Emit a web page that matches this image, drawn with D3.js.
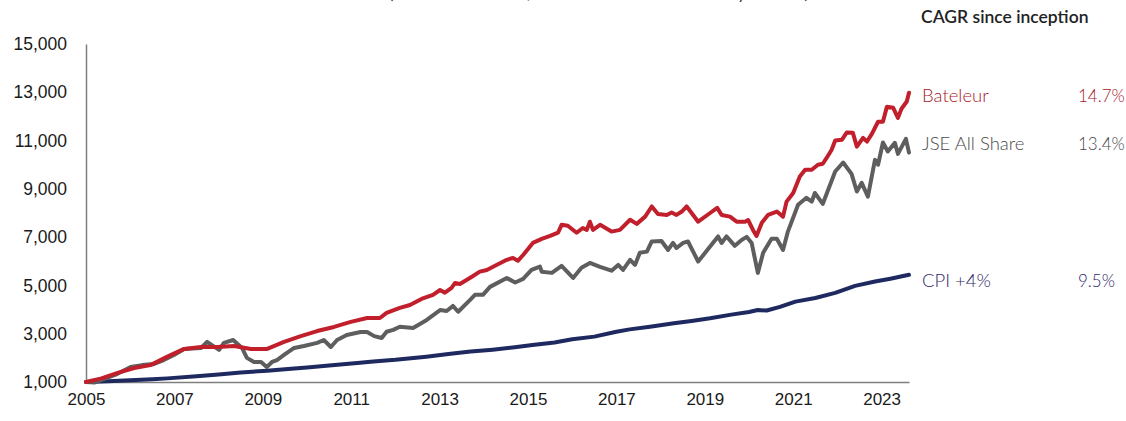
<!DOCTYPE html>
<html>
<head>
<meta charset="utf-8">
<script src="https://cdn.jsdelivr.net/npm/d3@7"></script>
<style>
  body { margin: 0; background: #fff; }
  svg { display: block; font-family: Lato, "Open Sans", sans-serif; }
</style>
</head>
<body>
<div id="chart"></div>
<script>
// values, [year, value]
var bateleur = [
  [2005.00, 1000], [2005.35, 1150], [2005.70, 1370], [2006.09, 1580], [2006.46, 1700],
  [2006.83, 2040], [2007.22, 2370], [2007.60, 2450], [2007.96, 2450], [2008.35, 2490],
  [2008.73, 2370], [2009.10, 2370], [2009.48, 2660], [2009.86, 2900], [2010.23, 3110],
  [2010.61, 3280], [2010.99, 3490], [2011.36, 3650], [2011.65, 3650], [2011.80, 3860],
  [2012.10, 4070], [2012.33, 4190], [2012.59, 4440], [2012.85, 4610], [2013.01, 4810],
  [2013.12, 4700], [2013.27, 4900], [2013.35, 5100], [2013.46, 5060], [2013.73, 5360],
  [2013.91, 5570], [2014.07, 5640], [2014.21, 5770], [2014.52, 6060], [2014.66, 6140],
  [2014.77, 6020], [2014.89, 6260], [2015.11, 6760], [2015.31, 6930], [2015.50, 7050],
  [2015.68, 7190], [2015.76, 7510], [2015.90, 7470], [2016.10, 7180], [2016.24, 7380],
  [2016.33, 7300], [2016.40, 7640], [2016.47, 7300], [2016.63, 7510], [2016.89, 7230],
  [2017.08, 7300], [2017.31, 7720], [2017.46, 7550], [2017.65, 7850], [2017.80, 8270],
  [2017.94, 7960], [2018.14, 7920], [2018.25, 8020], [2018.36, 7920], [2018.48, 8060],
  [2018.59, 8270], [2018.85, 7640], [2019.12, 8000], [2019.28, 8210], [2019.38, 7920],
  [2019.57, 7850], [2019.72, 7640], [2019.91, 7640], [2019.98, 7710], [2020.09, 7300],
  [2020.17, 7050], [2020.29, 7600], [2020.43, 7920], [2020.63, 8060], [2020.77, 7850],
  [2020.85, 8470], [2021.00, 8830], [2021.15, 9510], [2021.27, 9790], [2021.42, 9790],
  [2021.56, 10000], [2021.67, 10040], [2021.76, 10290], [2021.87, 10620], [2021.95, 11000],
  [2022.10, 11030], [2022.21, 11330], [2022.35, 11320], [2022.44, 10750], [2022.58, 11110],
  [2022.67, 10960], [2022.78, 11280], [2022.92, 11780], [2023.03, 11780], [2023.12, 12400],
  [2023.26, 12360], [2023.37, 11940], [2023.45, 12320], [2023.57, 12620], [2023.62, 12980]
];

var jse = [
  [2005.00, 1000], [2005.20, 980], [2005.70, 1330], [2006.01, 1620], [2006.27, 1700],
  [2006.54, 1750], [2006.76, 1910], [2006.99, 2120], [2007.22, 2370], [2007.60, 2410],
  [2007.74, 2660], [2008.01, 2330], [2008.12, 2620], [2008.33, 2740], [2008.53, 2410],
  [2008.64, 2000], [2008.80, 1830], [2008.96, 1830], [2009.09, 1620], [2009.21, 1830],
  [2009.32, 1910], [2009.48, 2120], [2009.71, 2410], [2009.93, 2490], [2010.23, 2620],
  [2010.38, 2740], [2010.54, 2450], [2010.68, 2740], [2010.90, 2950], [2011.21, 3070],
  [2011.36, 3070], [2011.52, 2900], [2011.69, 2820], [2011.80, 3080], [2011.95, 3160],
  [2012.10, 3290], [2012.40, 3240], [2012.71, 3570], [2013.01, 3980], [2013.16, 3940],
  [2013.30, 4150], [2013.42, 3910], [2013.69, 4400], [2013.80, 4610], [2013.98, 4610],
  [2014.14, 4940], [2014.52, 5310], [2014.71, 5120], [2014.89, 5270], [2015.08, 5640],
  [2015.27, 5780], [2015.31, 5570], [2015.54, 5520], [2015.76, 5810], [2016.02, 5310],
  [2016.21, 5730], [2016.40, 5930], [2016.63, 5770], [2016.89, 5610], [2017.04, 5850],
  [2017.15, 5640], [2017.31, 6060], [2017.42, 5850], [2017.53, 6350], [2017.69, 6400],
  [2017.80, 6820], [2018.02, 6840], [2018.17, 6470], [2018.28, 6760], [2018.36, 6550],
  [2018.51, 6760], [2018.62, 6820], [2018.85, 5990], [2019.12, 6610], [2019.30, 7030],
  [2019.38, 6760], [2019.49, 7030], [2019.68, 6640], [2019.84, 6890], [2019.95, 7010],
  [2020.06, 6760], [2020.20, 5520], [2020.32, 6350], [2020.51, 6930], [2020.63, 6930],
  [2020.77, 6470], [2020.88, 7230], [2021.11, 8340], [2021.30, 8630], [2021.42, 8470],
  [2021.49, 8830], [2021.67, 8380], [2021.95, 9720], [2022.13, 10090], [2022.32, 9620],
  [2022.44, 8890], [2022.55, 9250], [2022.69, 8680], [2022.85, 10200], [2022.92, 10000],
  [2023.03, 10920], [2023.14, 10550], [2023.30, 10910], [2023.37, 10450], [2023.55, 11070],
  [2023.62, 10500]
];

var cpi = [
  [2005.00, 1000], [2005.50, 1030], [2006.00, 1070], [2006.50, 1110], [2006.84, 1150],
  [2007.50, 1240], [2008.00, 1310], [2008.50, 1390], [2009.10, 1470], [2009.50, 1530],
  [2010.00, 1600], [2010.50, 1680], [2011.20, 1800], [2011.50, 1850], [2012.00, 1920],
  [2012.70, 2050], [2013.20, 2160], [2013.70, 2260], [2014.20, 2340], [2014.70, 2440],
  [2015.10, 2530], [2015.60, 2640], [2016.00, 2770], [2016.50, 2880], [2017.00, 3080],
  [2017.30, 3180], [2017.76, 3290], [2018.30, 3430], [2018.70, 3530], [2019.12, 3640],
  [2019.60, 3790], [2020.00, 3900], [2020.20, 3980], [2020.40, 3960], [2020.70, 4110],
  [2021.05, 4330], [2021.50, 4480], [2021.95, 4690], [2022.40, 4980], [2022.85, 5160],
  [2023.20, 5280], [2023.62, 5440]
];

var seriesNames = ["Bateleur", "JSE All Share", "CPI +4%"];
var cagrLabels = ["14.7%", "13.4%", "9.5%"];
var yTicks = [1000, 3000, 5000, 7000, 9000, 11000, 13000, 15000];
var xTicks = [2005, 2007, 2009, 2011, 2013, 2015, 2017, 2019, 2021, 2023];

var width = 1126, height = 421;
var margin = {top: 44, right: 217, bottom: 39, left: 86};

var lineColors = ["#c01f2b", "#5e5e5e", "#1e2960"];
var labelColors = ["#a8202b", "#4a4a4a", "#2f2868"];

var svg = d3.select("#chart").append("svg")
    .attr("width", width)
    .attr("height", height);

var x = d3.scaleLinear()
    .domain([2005, 2023.62])
    .range([margin.left, width - margin.right]);

var y = d3.scaleLinear()
    .domain([1000, 15000])
    .range([height - margin.bottom, margin.top]);

// title, sits almost entirely above the top edge like the original
svg.append("text")
    .attr("x", 389)
    .attr("y", -1)
    .style("font-size", "16px")
    .style("fill", "#333")
    .text("(Rebased to R1 000, total return after fees monthly in rands)");

// y axis
var yAxis = d3.axisLeft(y)
    .tickValues(yTicks)
    .tickSize(0)
    .tickPadding(19)
    .tickFormat(d3.format(","));

var gy = svg.append("g")
    .attr("transform", "translate(" + margin.left + ",0)")
    .call(yAxis);
gy.select(".domain").attr("stroke", "#7f7f7f").attr("stroke-width", 1.5);
gy.selectAll("text").style("font-size", "17.5px").style("fill", "#1a1a1a");

// x axis
var xAxis = d3.axisBottom(x)
    .tickValues(xTicks)
    .tickSize(0)
    .tickPadding(11)
    .tickFormat(d3.format("d"));

var gx = svg.append("g")
    .attr("transform", "translate(0," + (height - margin.bottom) + ")")
    .call(xAxis);
gx.select(".domain").attr("stroke", "#7f7f7f").attr("stroke-width", 1.5);
gx.selectAll("text").style("font-size", "17px").style("fill", "#1a1a1a");

var line = d3.line()
    .x(function (d) { return x(d[0]); })
    .y(function (d) { return y(d[1]); });

// cpi first, then jse, bateleur on top
var allSeries = [bateleur, jse, cpi];
[2, 1, 0].forEach(function (i) {
    svg.append("path")
        .datum(allSeries[i])
        .attr("fill", "none")
        .attr("stroke", lineColors[i])
        .attr("stroke-width", 4)
        .attr("stroke-linejoin", "round")
        .attr("stroke-linecap", "round")
        .attr("d", line);
});

// legend on the right
var labelX = 922, pctX = 1078;
var labelY = [96, 144, 281];

svg.append("text")
    .attr("x", 921)
    .attr("y", 23)
    .style("font-size", "17.5px")
    .style("font-weight", 600)
    .style("fill", "#222")
    .text("CAGR since inception");

seriesNames.forEach(function (name, i) {
    svg.append("text")
        .attr("x", labelX)
        .attr("y", labelY[i])
        .attr("dy", "0.35em")
        .style("font-size", "18.5px")
        .style("font-weight", 300)
        .style("fill", labelColors[i])
        .text(name);

    svg.append("text")
        .attr("x", pctX)
        .attr("y", labelY[i])
        .attr("dy", "0.35em")
        .style("font-size", "17px")
        .style("font-weight", 300)
        .style("fill", labelColors[i])
        .text(cagrLabels[i]);
});
</script>
</body>
</html>
